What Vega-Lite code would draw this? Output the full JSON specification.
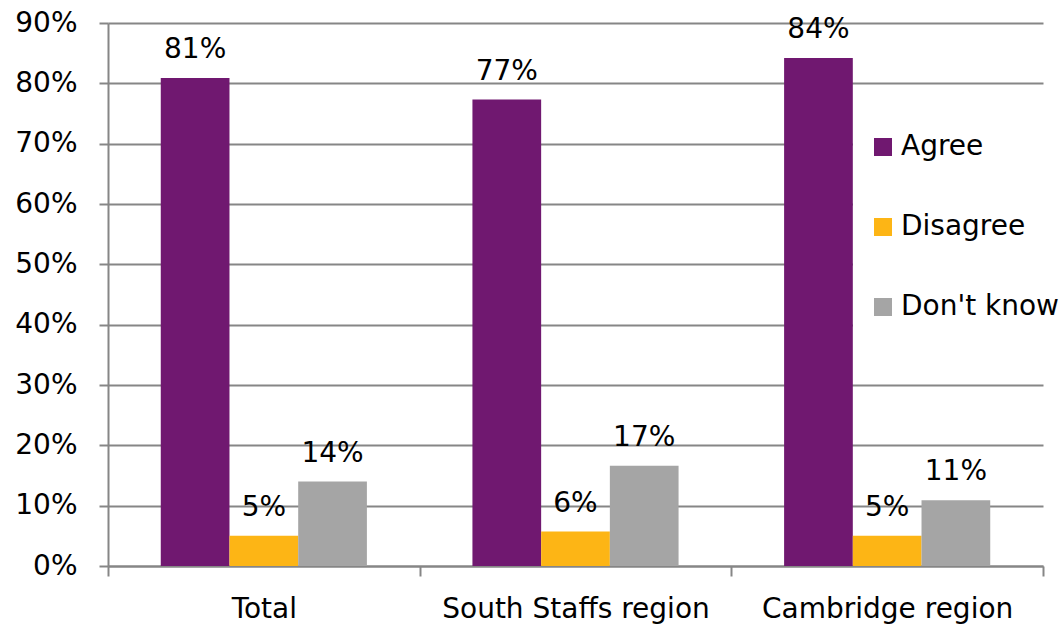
{
  "$schema": "https://vega.github.io/schema/vega-lite/v6.json",
  "width": 935,
  "height": 543,
  "autosize": {"type": "none"},
  "padding": {"left": 108, "top": 23, "right": 18, "bottom": 61},
  "background": "white",
  "config": {
    "font": "DejaVu Sans",
    "view": {"stroke": null}
  },
  "data": {
    "values": [
      {"region": "Total", "response": "Agree", "value": 0.809},
      {"region": "Total", "response": "Disagree", "value": 0.05},
      {"region": "Total", "response": "Don't know", "value": 0.14},
      {"region": "South Staffs region", "response": "Agree", "value": 0.773},
      {"region": "South Staffs region", "response": "Disagree", "value": 0.057},
      {"region": "South Staffs region", "response": "Don't know", "value": 0.166},
      {"region": "Cambridge region", "response": "Agree", "value": 0.842},
      {"region": "Cambridge region", "response": "Disagree", "value": 0.05},
      {"region": "Cambridge region", "response": "Don't know", "value": 0.109}
    ]
  },
  "encoding": {
    "x": {
      "field": "region",
      "type": "nominal",
      "sort": ["Total", "South Staffs region", "Cambridge region"],
      "scale": {"paddingInner": 0, "paddingOuter": 0},
      "axis": {
        "title": null,
        "labelAngle": 0,
        "labelFont": "DejaVu Sans",
        "labelFontSize": 28,
        "labelColor": "black",
        "labelPadding": 19,
        "labelLimit": 400,
        "tickBand": "extent",
        "tickSize": 10,
        "tickColor": "#868686",
        "tickWidth": 2,
        "domainColor": "#868686",
        "domainWidth": 2,
        "grid": false
      }
    },
    "xOffset": {
      "field": "response",
      "type": "nominal",
      "sort": ["Agree", "Disagree", "Don't know"],
      "scale": {"paddingInner": 0, "paddingOuter": 0.768}
    },
    "y": {
      "field": "value",
      "type": "quantitative",
      "scale": {"domain": [0, 0.9], "nice": false},
      "axis": {
        "title": null,
        "format": ".0%",
        "values": [0, 0.1, 0.2, 0.3, 0.4, 0.5, 0.6, 0.7, 0.8, 0.9],
        "labelFont": "DejaVu Sans",
        "labelFontSize": 28,
        "labelColor": "black",
        "labelPadding": 22,
        "tickSize": 9,
        "tickColor": "#868686",
        "tickWidth": 2,
        "domainColor": "#868686",
        "domainWidth": 2,
        "gridColor": "#868686",
        "gridWidth": 2
      }
    }
  },
  "layer": [
    {
      "mark": {"type": "bar"},
      "encoding": {
        "color": {
          "field": "response",
          "type": "nominal",
          "sort": ["Agree", "Disagree", "Don't know"],
          "scale": {
            "domain": ["Agree", "Disagree", "Don't know"],
            "range": ["#701870", "#FDB515", "#A5A5A5"]
          },
          "legend": {
            "title": null,
            "orient": "none",
            "legendX": 745,
            "legendY": 94,
            "padding": 16,
            "fillColor": "white",
            "symbolType": "square",
            "symbolSize": 324,
            "symbolStrokeWidth": 0,
            "labelFont": "DejaVu Sans",
            "labelFontSize": 28,
            "labelColor": "black",
            "labelOffset": 4,
            "rowPadding": 52,
            "labelLimit": 400
          }
        }
      }
    },
    {
      "mark": {"type": "text", "font": "DejaVu Sans", "fontSize": 28, "baseline": "alphabetic", "dy": -20, "color": "black"},
      "encoding": {
        "text": {"field": "value", "type": "quantitative", "format": ".0%"}
      }
    }
  ]
}
